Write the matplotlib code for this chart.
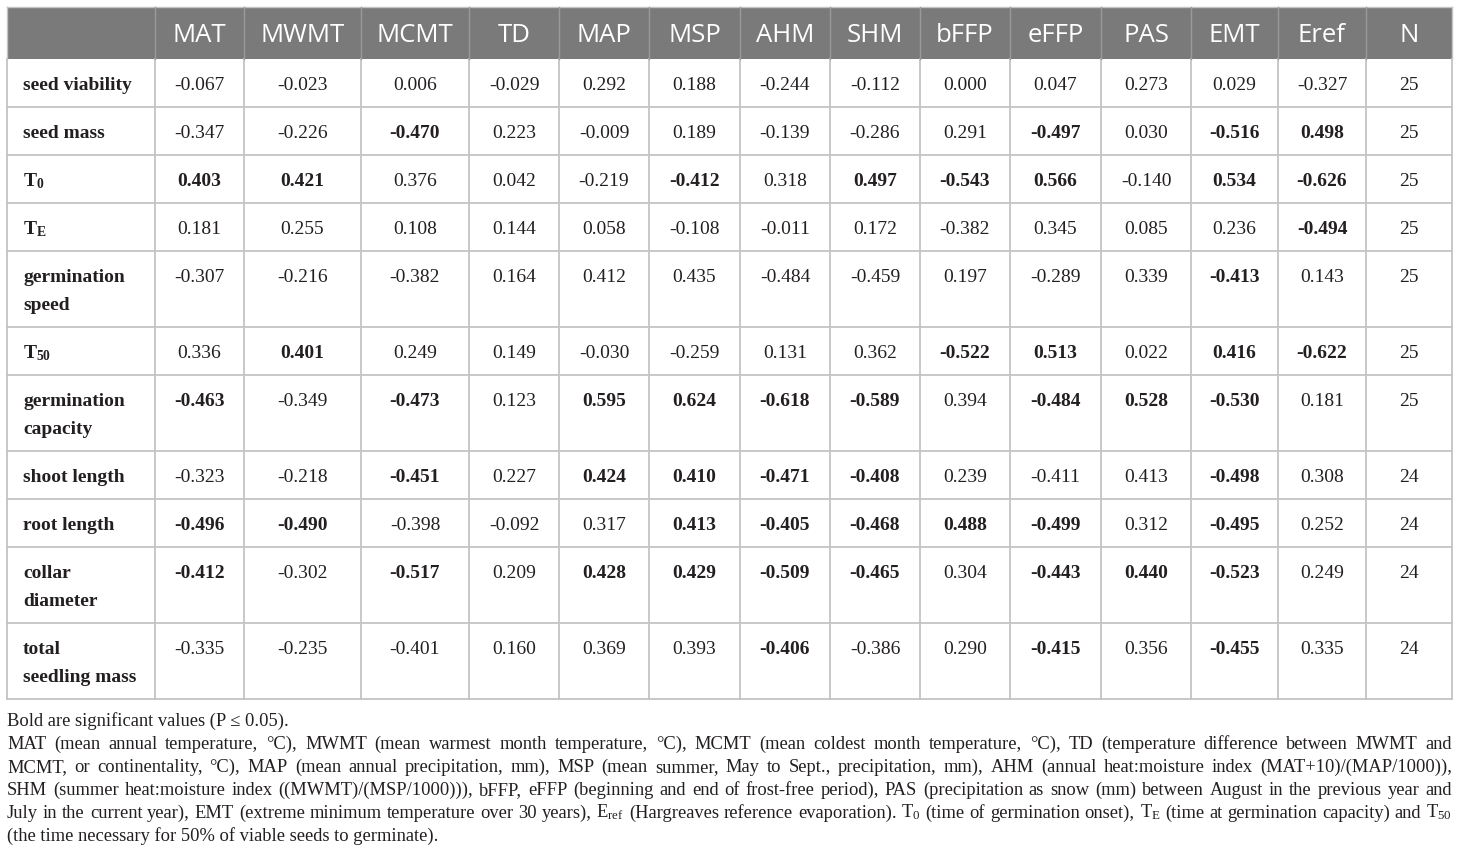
import matplotlib
matplotlib.use("Agg")
import matplotlib.pyplot as plt
from matplotlib.patches import Rectangle

plt.rcParams['mathtext.fontset'] = 'custom'
plt.rcParams['mathtext.rm'] = 'Liberation Serif'
plt.rcParams['mathtext.it'] = 'Liberation Serif:italic'
plt.rcParams['mathtext.bf'] = 'Liberation Serif:bold'

# ---------------- data ----------------
columns = ["MAT", "MWMT", "MCMT", "TD", "MAP", "MSP", "AHM", "SHM",
           "bFFP", "eFFP", "PAS", "EMT", "Eref", "N"]

row_labels = ["seed viability", "seed mass", r"T$_{\mathbf{0}}$", r"T$_{\mathbf{E}}$",
              "germination\nspeed", r"T$_{\mathbf{50}}$", "germination\ncapacity",
              "shoot length", "root length", "collar\ndiameter", "total\nseedling mass"]

seed_viability = [-0.067, -0.023, 0.006, -0.029, 0.292, 0.188, -0.244, -0.112, 0.000, 0.047, 0.273, 0.029, -0.327]
seed_mass      = [-0.347, -0.226, -0.470, 0.223, -0.009, 0.189, -0.139, -0.286, 0.291, -0.497, 0.030, -0.516, 0.498]
t0             = [0.403, 0.421, 0.376, 0.042, -0.219, -0.412, 0.318, 0.497, -0.543, 0.566, -0.140, 0.534, -0.626]
te             = [0.181, 0.255, 0.108, 0.144, 0.058, -0.108, -0.011, 0.172, -0.382, 0.345, 0.085, 0.236, -0.494]
germ_speed     = [-0.307, -0.216, -0.382, 0.164, 0.412, 0.435, -0.484, -0.459, 0.197, -0.289, 0.339, -0.413, 0.143]
t50            = [0.336, 0.401, 0.249, 0.149, -0.030, -0.259, 0.131, 0.362, -0.522, 0.513, 0.022, 0.416, -0.622]
germ_capacity  = [-0.463, -0.349, -0.473, 0.123, 0.595, 0.624, -0.618, -0.589, 0.394, -0.484, 0.528, -0.530, 0.181]
shoot_length   = [-0.323, -0.218, -0.451, 0.227, 0.424, 0.410, -0.471, -0.408, 0.239, -0.411, 0.413, -0.498, 0.308]
root_length    = [-0.496, -0.490, -0.398, -0.092, 0.317, 0.413, -0.405, -0.468, 0.488, -0.499, 0.312, -0.495, 0.252]
collar_diam    = [-0.412, -0.302, -0.517, 0.209, 0.428, 0.429, -0.509, -0.465, 0.304, -0.443, 0.440, -0.523, 0.249]
total_mass     = [-0.335, -0.235, -0.401, 0.160, 0.369, 0.393, -0.406, -0.386, 0.290, -0.415, 0.356, -0.455, 0.335]

values = [seed_viability, seed_mass, t0, te, germ_speed, t50, germ_capacity,
          shoot_length, root_length, collar_diam, total_mass]
n_values = [25, 25, 25, 25, 25, 25, 25, 24, 24, 24, 24]

# 1 = bold (significant, P <= 0.05)
bold = [
    [0, 0, 0, 0, 0, 0, 0, 0, 0, 0, 0, 0, 0],
    [0, 0, 1, 0, 0, 0, 0, 0, 0, 1, 0, 1, 1],
    [1, 1, 0, 0, 0, 1, 0, 1, 1, 1, 0, 1, 1],
    [0, 0, 0, 0, 0, 0, 0, 0, 0, 0, 0, 0, 1],
    [0, 0, 0, 0, 0, 0, 0, 0, 0, 0, 0, 1, 0],
    [0, 1, 0, 0, 0, 0, 0, 0, 1, 1, 0, 1, 1],
    [1, 0, 1, 0, 1, 1, 1, 1, 0, 1, 1, 1, 0],
    [0, 0, 1, 0, 1, 1, 1, 1, 0, 0, 0, 1, 0],
    [1, 1, 0, 0, 0, 1, 1, 1, 1, 1, 0, 1, 0],
    [1, 0, 1, 0, 1, 1, 1, 1, 0, 1, 1, 1, 0],
    [0, 0, 0, 0, 0, 0, 1, 0, 0, 1, 0, 1, 0],
]

footnote_first = "Bold are significant values (P \u2264 0.05)."
footnote_lines = [
    "MAT (mean annual temperature, \u00b0C), MWMT (mean warmest month temperature, \u00b0C), MCMT (mean coldest month temperature, \u00b0C), TD (temperature difference between MWMT and",
    "MCMT, or continentality, \u00b0C), MAP (mean annual precipitation, mm), MSP (mean summer, May to Sept., precipitation, mm), AHM (annual heat:moisture index (MAT+10)/(MAP/1000)),",
    "SHM (summer heat:moisture index ((MWMT)/(MSP/1000))), bFFP, eFFP (beginning and end of frost-free period), PAS (precipitation as snow (mm) between August in the previous year and",
    r"July in the current year), EMT (extreme minimum temperature over 30 years), $\mathrm{E}_{\mathrm{ref}}$ (Hargreaves reference evaporation). T$_{0}$ (time of germination onset), T$_{\mathrm{E}}$ (time at germination capacity) and T$_{50}$",
]
footnote_last = "(the time necessary for 50% of viable seeds to germinate)."

# ---------------- layout ----------------
W, H = 1460, 861
fig = plt.figure(figsize=(W / 100, H / 100), dpi=100)
ax = fig.add_axes([0, 0, 1, 1])
ax.set_xlim(0, W)
ax.set_ylim(H, 0)
ax.axis('off')

col_edges = [7, 155, 244, 361, 469, 559, 649, 740, 830, 920, 1010, 1101, 1191, 1278, 1366, 1452]
top, head_bot = 7, 59
single_h, double_h = 48, 76

HEAD_BG = '#7a7a7a'
GRID = '#c4c4c4'
TXT = '#231f20'
serif = ['Liberation Serif', 'DejaVu Serif']

# header
ax.add_patch(Rectangle((col_edges[0], top), col_edges[-1] - col_edges[0], head_bot - top,
                       facecolor=HEAD_BG, edgecolor='none', zorder=1))
for i, c in enumerate(columns):
    cx = (col_edges[i + 1] + col_edges[i + 2]) / 2
    ax.text(cx, top + 35.5, c, ha='center', va='baseline', color='white',
            fontsize=18.5, family=['Open Sans', 'DejaVu Sans'])

# rows
row_tops = []
y = head_bot
for lab in row_labels:
    row_tops.append(y)
    y += double_h if '\n' in lab else single_h
bottom = y

for r, lab in enumerate(row_labels):
    yt = row_tops[r]
    for li, part in enumerate(lab.split('\n')):
        ax.text(23, yt + 31.5 + 27 * li, part, ha='left', va='baseline', color=TXT,
                fontsize=14, fontweight='bold', family=serif)
    for c, v in enumerate(values[r]):
        cx = (col_edges[c + 1] + col_edges[c + 2]) / 2
        ax.text(cx, yt + 31.5, f"{v:.3f}", ha='center', va='baseline', color=TXT,
                fontsize=14, fontweight='bold' if bold[r][c] else 'normal', family=serif)
    cx = (col_edges[-2] + col_edges[-1]) / 2
    ax.text(cx, yt + 31.5, str(n_values[r]), ha='center', va='baseline', color=TXT,
            fontsize=14, family=serif)

# grid lines
for yy in row_tops[1:] + [bottom]:
    ax.plot([col_edges[0], col_edges[-1]], [yy, yy], color=GRID, lw=1.3, zorder=2)
ax.plot([col_edges[0], col_edges[-1]], [top, top], color=GRID, lw=1.0, zorder=2)
for xx in col_edges:
    ax.plot([xx, xx], [head_bot, bottom], color=GRID, lw=1.3, zorder=2)
for xx in col_edges[1:-1]:
    ax.plot([xx, xx], [top, head_bot], color='#9a9a9a', lw=1.0, zorder=2)
ax.plot([col_edges[0]] * 2, [top, head_bot], color=GRID, lw=1.0, zorder=2)
ax.plot([col_edges[-1]] * 2, [top, head_bot], color=GRID, lw=1.0, zorder=2)

# footnotes
renderer = fig.canvas.get_renderer()
fn_size = 13.3
x0, x1 = 7, 1452
base0, step = 726, 22.9


def justified(line, yb):
    words = line.split(' ')
    texts = [ax.text(0, yb, w, ha='left', va='baseline', color=TXT,
                     fontsize=fn_size, family=serif) for w in words]
    widths = [t.get_window_extent(renderer).width for t in texts]
    gap = (x1 - x0 - sum(widths)) / (len(words) - 1)
    xx = x0
    for t, wd in zip(texts, widths):
        t.set_x(xx)
        xx += wd + gap


ax.text(x0, base0, footnote_first, ha='left', va='baseline', color=TXT,
        fontsize=fn_size, family=serif)
for i, line in enumerate(footnote_lines):
    justified(line, base0 + step * (i + 1))
ax.text(x0, base0 + step * 5, footnote_last, ha='left', va='baseline', color=TXT,
        fontsize=fn_size, family=serif)

fig.savefig('out.png', dpi=100, facecolor='white')
